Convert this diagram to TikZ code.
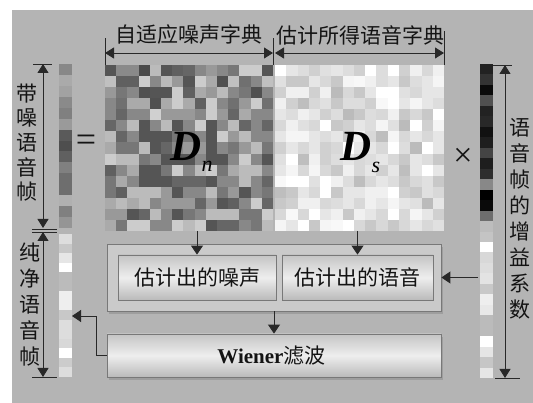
\documentclass[tikz,border=0pt]{standalone}
\usepackage{fontspec}
\setmainfont{Liberation Serif}
\newfontfamily\cjk{Noto Sans CJK SC}
\usetikzlibrary{arrows.meta,calc}

\definecolor{panelc}{RGB}{180,180,180}
\definecolor{outerc}{RGB}{202,202,202}
\definecolor{edgec}{RGB}{120,120,120}
\definecolor{linec}{RGB}{40,40,40}
\definecolor{boxtop}{RGB}{196,196,196}
\definecolor{boxmid}{RGB}{238,238,238}
\definecolor{boxbot}{RGB}{186,186,186}
\definecolor{inkc}{RGB}{20,20,20}

\tikzset{
  arr/.style={draw=linec, line width=0.9pt, -{Triangle[length=9pt,width=12pt]}},
  darr/.style={draw=linec, line width=0.9pt, {Triangle[length=9pt,width=11pt]}-{Triangle[length=9pt,width=11pt]}},
  tick/.style={draw=linec, line width=0.9pt},
  vtext/.style={text=inkc, align=center, inner sep=0pt},
  cnlabel/.style={text=inkc, inner sep=0pt, font=\cjk\fontsize{21}{21}\selectfont},
  slot/.style={inner sep=0pt, outer sep=0pt, draw=none},
  gradbox/.style={draw=edgec, line width=0.8pt, inner sep=0pt,
    top color=boxtop, bottom color=boxbot, middle color=boxmid},
}

\newcommand{\cellcol}[5]{% x0, y0, cell width, cell height, list of gray levels
  \foreach \v [count=\k from 0] in {#5} {
    \definecolor{cellc}{RGB}{\v,\v,\v}
    \fill[cellc] (#1, #2+\k*#4) rectangle ++(#3, #4+0.3);
  }}

\newcommand{\cellgrid}[5]{% x0, y0, cell width, cell height, rows
  \foreach \row [count=\i from 0] in {#5} {
    \foreach \v [count=\j from 0] in \row {
      \definecolor{cellc}{RGB}{\v,\v,\v}
      \fill[cellc] (#1+\j*#3, #2+\i*#4) rectangle ++(#3+0.3, #4+0.3);
    }
  }}

\begin{document}
\begin{tikzpicture}[x=1pt, y=-1pt]
\useasboundingbox (0,0) rectangle (533,403);
\fill[white] (0,0) rectangle (533,403);
\fill[panelc] (12,10) rectangle (533,403);

% noise dictionary
\cellgrid{105}{65}{11.2}{11.07}{
 {85,138,138,74,187,85,96,102,136,153,136,119,204,204,85},
 {192,96,96,204,136,187,153,85,204,170,80,192,112,136,192},
 {153,119,136,80,85,85,204,96,170,153,187,136,119,80,136},
 {136,112,170,170,80,170,204,170,96,204,136,112,153,204,112},
 {136,102,136,136,208,153,153,153,136,204,153,102,170,136,136},
 {102,136,187,85,136,187,85,136,204,85,136,187,102,136,102},
 {187,102,136,85,85,85,119,119,136,85,204,153,187,136,136},
 {170,119,119,187,85,102,136,153,153,85,136,119,153,187,119},
 {204,187,187,119,136,85,85,85,136,85,85,136,204,136,85},
 {96,136,170,85,85,119,204,136,187,204,119,170,187,187,136},
 {119,170,136,85,85,85,102,102,102,85,136,136,187,136,102},
 {119,96,187,187,187,153,85,136,136,187,119,153,85,136,119},
 {170,187,170,187,136,153,153,153,102,153,85,96,136,204,102},
 {153,153,85,102,187,136,85,119,136,187,187,187,119,119,204},
 {170,119,204,204,136,136,204,187,204,85,102,102,136,119,187}}

% speech dictionary
\cellgrid{275}{65}{11.27}{11.07}{
 {255,230,221,208,224,230,221,208,255,221,255,208,240,216,240},
 {224,200,200,230,216,200,245,248,240,221,230,200,221,230,245},
 {208,240,240,208,240,187,216,200,230,255,255,224,216,230,230},
 {240,208,190,216,224,200,221,221,208,248,255,230,245,230,221},
 {230,221,240,230,208,221,187,200,221,216,240,200,216,200,255},
 {216,240,224,216,255,200,208,230,221,245,224,187,255,208,245},
 {230,245,245,230,221,230,200,240,216,190,245,216,230,216,230},
 {208,230,216,230,208,216,255,230,230,216,255,221,187,255,230},
 {224,255,190,240,208,221,230,216,221,230,216,200,230,221,200},
 {230,245,216,245,216,200,240,216,230,208,230,190,230,255,230},
 {248,255,255,224,255,240,221,190,216,230,221,200,216,224,200},
 {190,200,230,216,255,200,230,230,240,240,255,208,200,224,216},
 {200,208,240,240,216,221,230,216,240,230,245,230,224,187,230},
 {216,248,216,255,230,240,200,240,230,216,255,216,245,230,208},
 {245,230,255,200,245,248,255,216,200,216,200,216,230,216,224}}

% noisy frame, clean frame and gain vector
\cellcol{59}{64}{13}{10.93}{136,170,162,138,128,154,90,78,96,128,110,110,176,128,149}
\cellcol{59}{234}{13}{9.53}{221,200,230,255,187,187,238,238,200,221,221,216,255,204,221}
\cellcol{480}{64}{13}{10.47}{34,51,10,80,34,40,17,30,68,30,46,136,0,10,110,189,196,255,216,221,227,200,238,232,187,187,255,229,198,230}

% named slots over the drawn blocks
\node[slot, minimum width=168, minimum height=166] (dn) at (189,148) {};
\node[slot, minimum width=169, minimum height=166] (ds) at (359.5,148) {};
\node[slot, minimum width=13, minimum height=164] (nz) at (65.5,146) {};
\node[slot, minimum width=13, minimum height=143] (cl) at (65.5,305.5) {};
\node[slot, minimum width=13, minimum height=314] (gn) at (486.5,221) {};

% matrix symbols
\node[inner sep=0pt, text=black, font=\fontsize{43}{43}\selectfont\bfseries\itshape] (dnD) at (186,146) {D};
\node[inner sep=0pt, text=black, font=\fontsize{22}{22}\selectfont\itshape] (dnS) at (207,166) {n};
\node[inner sep=0pt, text=black, font=\fontsize{43}{43}\selectfont\bfseries\itshape] (dsD) at (356,146) {D};
\node[inner sep=0pt, text=black, font=\fontsize{22}{22}\selectfont\itshape] (dsS) at (376,167) {s};
\node[inner sep=0pt, text=inkc, font=\fontsize{36}{36}\selectfont] (eq) at (86,143) {=};
\node[inner sep=0pt, text=inkc, font=\fontsize{34}{34}\selectfont] (times) at (463,157) {×};

% dictionary labels and dimension lines
\node[cnlabel] (ldn) at (189,35) {自适应噪声字典};
\node[cnlabel] (lds) at (360,35) {估计所得语音字典};
\draw[tick] (dn.north west) -- ++(0,-27);
\draw[tick] (dn.north east) -- ++(0,-27);
\draw[tick] (ds.north east) -- ++(0,-34);
\draw[darr] ($(dn.north west)+(0,-12)$) -- ($(dn.north east)+(0,-12)$);
\draw[darr] ($(ds.north west)+(0,-12)$) -- ($(ds.north east)+(0,-12)$);

% left dimension lines
\draw[tick] ($(nz.north west)+(-26,0)$) -- ++(19,0);
\draw[darr] ($(nz.north west)+(-16,0)$) -- ($(nz.south west)+(-16,0)$);
\draw[tick] ($(nz.south west)+(-27,1)$) -- ++(25,0);
\draw[tick] ($(cl.north west)+(-27,-2)$) -- ++(25,0);
\draw[darr] ($(cl.north west)+(-16,-2)$) -- ($(cl.south west)+(-16,0)$);
\draw[tick] ($(cl.south west)+(-27,0)$) -- ++(25,0);
\node[vtext, font=\cjk\fontsize{21}{24.7}\selectfont] (lnz) at (27,142.5) {带\\噪\\语\\音\\帧};
\node[vtext, font=\cjk\fontsize{21}{26}\selectfont] (lcl) at (30,305) {纯\\净\\语\\音\\帧};

% right dimension line
\draw[tick] ($(gn.north east)+(0,1)$) -- ++(19,0);
\draw[darr] ($(gn.north east)+(12,1)$) -- ($(gn.south east)+(12,0)$);
\draw[tick] ($(gn.south east)+(2,0)$) -- ++(25,0);
\node[vtext, font=\cjk\fontsize{21}{26}\selectfont] (lgn) at (520,219) {语\\音\\帧\\的\\增\\益\\系\\数};

% processing blocks
\fill[black, opacity=0.12] (109,247) rectangle (443,314);
\node[draw=edgec, fill=outerc, line width=0.8pt, minimum width=334, minimum height=67, inner sep=0pt] (outer) at (274,277.5) {};
\node[gradbox, minimum width=158, minimum height=45] (nbox) at (197,277.5) {};
\node[cnlabel] at (nbox) {估计出的噪声};
\node[gradbox, minimum width=151, minimum height=45] (sbox) at (357.5,277.5) {};
\node[cnlabel] at (sbox) {估计出的语音};
\fill[black, opacity=0.12] (109,337) rectangle (443,380);
\node[gradbox, minimum width=334, minimum height=43] (wbox) at (274,355.5) {};
\node[inner sep=0pt, text=inkc] at (271.5,355.5) {\fontsize{21}{21}\selectfont\bfseries Wiener\cjk\mdseries 滤波};

% connectors
\draw[arr] (dn.south -| nbox.north) -- (nbox.north);
\draw[arr] (ds.south -| sbox.north) -- (sbox.north);
\draw[arr] ($(gn.west |- outer.east)+(-2,0)$) -- (outer.east);
\draw[arr] (outer.south) -- (wbox.north);
\coordinate (clin) at ($(cl.east)+(0,10.5)$);
\draw[arr] (wbox.west) -- ++(-10,0) |- (clin);
\end{tikzpicture}
\end{document}
